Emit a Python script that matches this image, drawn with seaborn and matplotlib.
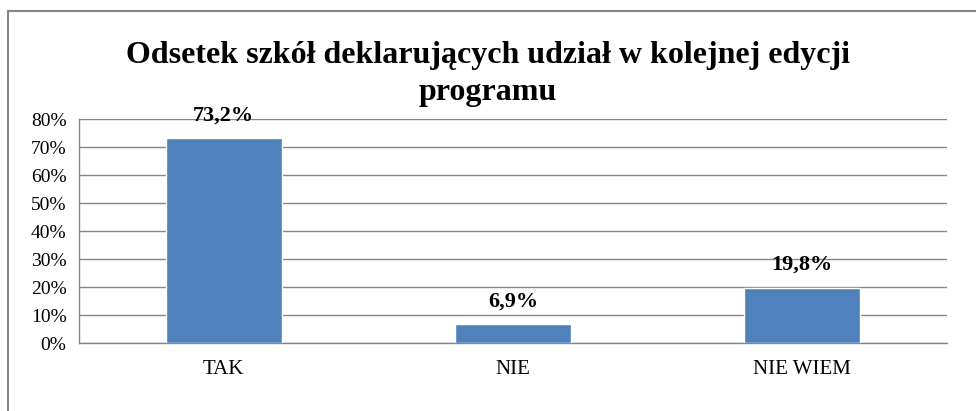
import matplotlib
matplotlib.use("Agg")
import matplotlib.pyplot as plt
import seaborn as sns
import pandas as pd
from matplotlib.lines import Line2D

categories = ["TAK", "NIE", "NIE WIEM"]
values = [73.2, 6.9, 19.8]
value_labels = ["73,2%", "6,9%", "19,8%"]
y_ticks = [0, 10, 20, 30, 40, 50, 60, 70, 80]
y_tick_labels = ["0%", "10%", "20%", "30%", "40%", "50%", "60%", "70%", "80%"]
title = "Odsetek szkół deklarujących udział w kolejnej edycji\nprogramu"

sns.set_theme(style="white")
plt.rcParams["font.family"] = ["Liberation Serif", "DejaVu Serif"]
plt.rcParams["text.color"] = "black"

df = pd.DataFrame({"cat": categories, "val": values})

fig = plt.figure(figsize=(9.76, 4.11), dpi=100)
ax = fig.add_axes([79 / 976, 1 - 343 / 411, (947 - 79) / 976, (343 - 119) / 411])

sns.barplot(data=df, x="cat", y="val", color="#4F81BD", saturation=1, width=0.4, ax=ax, zorder=3)

ax.set_ylim(0, 80)
ax.set_xlim(-0.5, 2.5)
ax.set_yticks(y_ticks)
ax.set_yticklabels(y_tick_labels, fontsize=14, color="black")
ax.set_xticks(range(len(categories)))
ax.set_xticklabels(categories, fontsize=15, color="black")
ax.tick_params(axis="x", which="major", length=0, pad=12)
ax.set_xticks([0.5, 1.5, 2.5], minor=True)
ax.tick_params(axis="x", which="minor", length=5, width=1, color="#868686", direction="out")
ax.tick_params(axis="y", length=6, width=1, color="#868686", direction="out", pad=3)
ax.set_xlabel("")
ax.set_ylabel("")

ax.grid(axis="y", color="#868686", linewidth=1, zorder=0)
ax.set_axisbelow(True)
for s in ["top", "right"]:
    ax.spines[s].set_visible(False)
for s in ["left", "bottom"]:
    ax.spines[s].set_color("#868686")
    ax.spines[s].set_linewidth(1)

for i, (v, lab) in enumerate(zip(values, value_labels)):
    ax.annotate(lab, (i, v), xytext=(0, 9), textcoords="offset points",
                ha="center", va="bottom", fontsize=16, fontweight="bold", color="black")

fig.text(0.5, 1 - 74 / 411, title, ha="center", va="center", fontsize=23,
         fontweight="bold", linespacing=1.4, color="black")

fig.add_artist(Line2D([8 / 976, 1], [1 - 11 / 411, 1 - 11 / 411], color="#868686", linewidth=1.5,
                      transform=fig.transFigure))
fig.add_artist(Line2D([8 / 976, 8 / 976], [0, 1 - 11 / 411], color="#868686", linewidth=1.5,
                      transform=fig.transFigure))

fig.savefig("out.png", dpi=100)
